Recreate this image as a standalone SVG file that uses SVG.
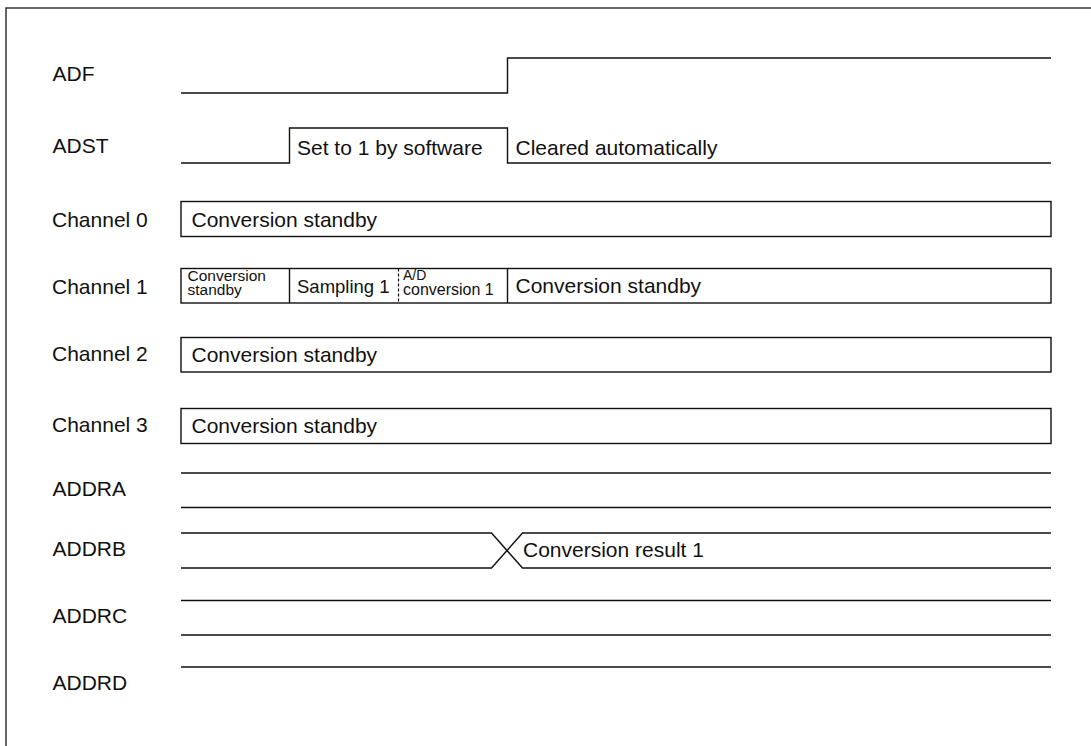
<svg xmlns="http://www.w3.org/2000/svg" width="1091" height="746" viewBox="0 0 1091 746">
<style>
.bg{fill:#fff}
.frame{fill:none;stroke:#333;stroke-width:1.5}
.sig{fill:none;stroke:#111;stroke-width:1.4}
.box{fill:#fff;stroke:#111;stroke-width:1.4}
.dash{stroke:#111;stroke-width:1.2;stroke-dasharray:3,2}
.lbl{font-family:"Liberation Sans",Arial,sans-serif;font-size:21px;fill:#111}
.txt{font-family:"Liberation Sans",Arial,sans-serif;font-size:21px;fill:#111}
.sm{font-family:"Liberation Sans",Arial,sans-serif;font-size:15.5px;fill:#111}
</style>
<rect class="bg" x="0" y="0" width="1091" height="746"/>
<path class="frame" d="M6,746 V8 H1091"/>

<g id="adf">
<text class="lbl" x="52.5" y="81">ADF</text>
<path class="sig" d="M181,93 H507.5 V58 H1051"/>
</g>

<g id="adst">
<text class="lbl" x="52.5" y="153">ADST</text>
<path class="sig" d="M181,163 H289.5 V128 H507.5 V163 H1051"/>
<text class="txt" x="297" y="155">Set to 1 by software</text>
<text class="txt" x="515.5" y="155">Cleared automatically</text>
</g>

<g id="ch0">
<text class="lbl" x="52" y="227">Channel 0</text>
<rect class="box" x="181" y="201.5" width="870" height="35"/>
<text class="txt" x="191.5" y="227">Conversion standby</text>
</g>

<g id="ch1">
<text class="lbl" x="52" y="294">Channel 1</text>
<rect class="box" x="181" y="268.5" width="870" height="34.5"/>
<line class="sig" x1="289.5" y1="268.5" x2="289.5" y2="303"/>
<line class="dash" x1="398.5" y1="268.5" x2="398.5" y2="303"/>
<line class="sig" x1="507.5" y1="268.5" x2="507.5" y2="303"/>
<text class="sm" x="187.5" y="280.5">Conversion<tspan x="187.5" y="294.5">standby</tspan></text>
<text class="txt" x="297" y="293" style="font-size:18.5px">Sampling 1</text>
<text class="sm" x="403" y="280" style="font-size:14px">A/D<tspan x="403" y="295" style="font-size:16px">conversion 1</tspan></text>
<text class="txt" x="515.5" y="293">Conversion standby</text>
</g>

<g id="ch2">
<text class="lbl" x="52" y="361">Channel 2</text>
<rect class="box" x="181" y="337.5" width="870" height="34.5"/>
<text class="txt" x="191.5" y="362">Conversion standby</text>
</g>

<g id="ch3">
<text class="lbl" x="52" y="432">Channel 3</text>
<rect class="box" x="181" y="408.5" width="870" height="35"/>
<text class="txt" x="191.5" y="433">Conversion standby</text>
</g>

<g id="addra">
<text class="lbl" x="52.5" y="496">ADDRA</text>
<path class="sig" d="M181,473 H1051 M181,507.5 H1051"/>
</g>

<g id="addrb">
<text class="lbl" x="52.5" y="556">ADDRB</text>
<path class="sig" d="M181,533 H491.5 L522.5,568 H1051 M181,568 H491.5 L522.5,533 H1051"/>
<text class="txt" x="523" y="557">Conversion result 1</text>
</g>

<g id="addrc">
<text class="lbl" x="52.5" y="623">ADDRC</text>
<path class="sig" d="M181,600.5 H1051 M181,635 H1051"/>
</g>

<g id="addrd">
<text class="lbl" x="52.5" y="690">ADDRD</text>
<path class="sig" d="M181,667 H1051"/>
</g>

<g id="connectors"/>
</svg>
